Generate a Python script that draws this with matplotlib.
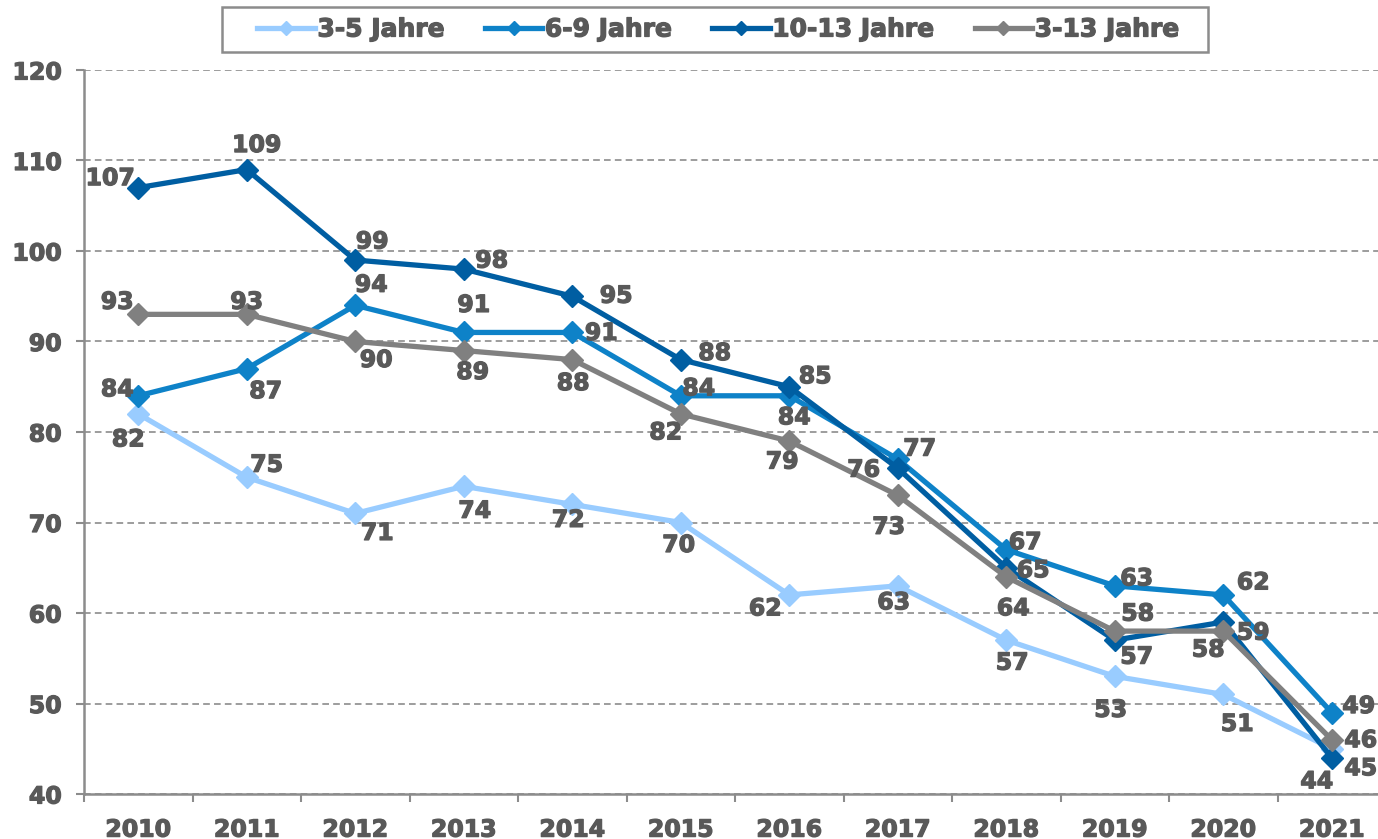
import matplotlib
matplotlib.use("Agg")
import matplotlib.pyplot as plt
from matplotlib.lines import Line2D
from matplotlib.patches import Rectangle
import matplotlib.patheffects as pe

years = ["2010", "2011", "2012", "2013", "2014", "2015", "2016", "2017", "2018", "2019", "2020", "2021"]
s_3_5 = [82, 75, 71, 74, 72, 70, 62, 63, 57, 53, 51, 45]
s_6_9 = [84, 87, 94, 91, 91, 84, 84, 77, 67, 63, 62, 49]
s_10_13 = [107, 109, 99, 98, 95, 88, 85, 76, 65, 57, 59, 44]
s_3_13 = [93, 93, 90, 89, 88, 82, 79, 73, 64, 58, 58, 46]
names = ["3-5 Jahre", "6-9 Jahre", "10-13 Jahre", "3-13 Jahre"]
colors = ["#99CCFF", "#0E82C8", "#005EA2", "#808080"]

# label offsets in pixels (dx, dy up) for each point
off_3_5 = [(-10, -24), (20, 14), (22, -18), (11, -23), (-4, -14), (-2, -21),
           (-24, -12), (-4, -15), (6, -21), (-4, -32), (14, -28), (29, -18)]
off_6_9 = [(-21, 8), (19, -21), (16, 22), (10, 29), (29, 1), (18, 9),
           (5, -20), (22, 12), (19, 9), (22, 9), (30, 14), (27, 8)]
off_10_13 = [(-28, 11), (10, 26), (17, 20), (28, 10), (44, 2), (34, 8),
             (26, 12), (-34, 0), (27, -1), (22, -15), (30, -9), (-15, -22)]
off_3_13 = [(-21, 14), (0, 14), (21, -17), (9, -20), (1, -22), (-15, -17),
            (-7, -19), (-9, -30), (7, -30), (23, 19), (-15, -17), (29, 1)]

series = [s_3_5, s_6_9, s_10_13, s_3_13]
offsets = [off_3_5, off_6_9, off_10_13, off_3_13]

txt = "#595959"
gridc = "#8C8C8C"
fs = 17
plt.rcParams["font.family"] = ["DejaVu Sans"]
plt.rcParams["font.weight"] = "bold"
heavy = [pe.withStroke(linewidth=0.9, foreground=txt)]

fig = plt.figure(figsize=(13.78, 8.39), dpi=100)
ax = fig.add_axes([84 / 1378, 1 - 794 / 839, (1386 - 84) / 1378, (794 - 70) / 839])

x = list(range(len(years)))
for s, c, n in zip(series, colors, names):
    ax.plot(x, s, color=c, lw=3.8, marker="D", markersize=11, label=n,
            solid_joinstyle="miter", zorder=3)

for s, off in zip(series, offsets):
    for i, (v, (dx, dy)) in enumerate(zip(s, off)):
        ax.annotate(str(v), (i, v), xytext=(dx, dy - 8.5), textcoords="offset pixels",
                    ha="center", va="baseline", fontsize=fs, fontweight="bold",
                    color=txt, zorder=5, annotation_clip=False, path_effects=heavy)

ax.set_xlim(-0.5, 11.5)
ax.set_ylim(40, 120)
ax.set_yticks(range(40, 121, 10))
ax.set_xticks(x)
ax.set_xticklabels(years)
ax.set_xticks([i + 0.5 for i in range(-1, 11)], minor=True)
ax.tick_params(axis="x", which="major", length=0, pad=17, labelsize=fs, labelcolor=txt)
ax.tick_params(axis="x", which="minor", length=6, width=1.5, color=gridc, direction="out")
ax.tick_params(axis="y", length=6, width=1.5, color=gridc, pad=10, labelsize=fs, labelcolor=txt)
for lab in ax.get_xticklabels() + ax.get_yticklabels():
    lab.set_fontweight("bold")
    lab.set_path_effects(heavy)

ax.grid(axis="y", color=gridc, ls=(0, (4, 2.5)), lw=1.2)
ax.set_axisbelow(True)
for sp in ["top", "right"]:
    ax.spines[sp].set_visible(False)
for sp in ["left", "bottom"]:
    ax.spines[sp].set_color(gridc)
    ax.spines[sp].set_linewidth(1.8)

# legend frame
fig.patches.append(Rectangle((222 / 1378, 1 - 52 / 839), 986 / 1378, 45 / 839,
                             transform=fig.transFigure, fill=False, ec=gridc, lw=1.8))
handles = [Line2D([0], [0], color=c, lw=3.8, marker="D", markersize=7) for c in colors]
leg = fig.legend(handles, names, loc="center", bbox_to_anchor=(718.5 / 1378, 1 - 29.5 / 839),
                 ncol=4, frameon=False, prop={"size": 18, "weight": "bold"},
                 handlelength=2.3, handletextpad=0.1, columnspacing=1.6,
                 borderpad=0.0, borderaxespad=0)
for t in leg.get_texts():
    t.set_color(txt)
    t.set_path_effects(heavy)

fig.savefig("out.png", dpi=100)
